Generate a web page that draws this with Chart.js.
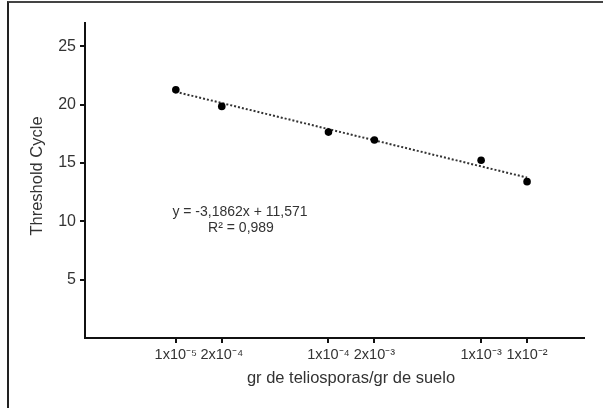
<!DOCTYPE html>
<html>
<head>
<meta charset="utf-8">
<script src="https://cdn.jsdelivr.net/npm/chart.js@4/dist/chart.umd.min.js"></script>
<style>
  html, body { margin: 0; padding: 0; background: #fff; }
  #wrap { position: relative; width: 603px; height: 408px; }
  #frame { position: absolute; left: 7px; top: 1px; right: 0; bottom: 0;
           border-left: 2px solid #222; border-top: 2px solid #444; pointer-events: none; }
</style>
</head>
<body>
<div id="wrap">
  <canvas id="chart" width="603" height="408"></canvas>
  <div id="frame"></div>
</div>
<script>
// posición de cada muestra en décadas (escala log) y etiquetas tal como aparecen
const xPos = [0, 0.301, 1, 1.301, 2, 2.301];
const xLabels = ['1x10⁻⁵', '2x10⁻⁴', '1x10⁻⁴', '2x10⁻³', '1x10⁻³', '1x10⁻²'];
const ctValues = [21.27, 19.85, 17.65, 16.97, 15.23, 13.40];
const trendX = [0, 2.301];
const trendY = [21.1, 13.75];
const yTicks = [5, 10, 15, 20, 25];

const FONT = 'Liberation Sans, Arial, sans-serif';
const TXT = '#333';

// textos: títulos de ejes y ecuación de la recta
const textPlugin = {
  id: 'textos',
  afterDraw(chart) {
    const ctx = chart.ctx;
    ctx.save();
    ctx.fillStyle = TXT;
    ctx.textAlign = 'center';
    ctx.textBaseline = 'middle';
    ctx.font = '16.5px ' + FONT;
    ctx.fillText('gr de teliosporas/gr de suelo', 351, 378);
    ctx.save();
    ctx.translate(37, 176);
    ctx.rotate(-Math.PI / 2);
    ctx.fillText('Threshold Cycle', 0, 0);
    ctx.restore();
    ctx.font = '14px ' + FONT;
    ctx.fillText('y = -3,1862x + 11,571', 240, 212);
    ctx.fillText('R² = 0,989', 241, 228);
    ctx.restore();
  }
};

new Chart(document.getElementById('chart'), {
  type: 'scatter',
  data: {
    datasets: [
      {
        data: xPos.map((x, i) => ({ x: x, y: ctValues[i] })),
        pointRadius: 3.8,
        pointBackgroundColor: '#000',
        pointBorderWidth: 0,
        order: 0
      },
      {
        type: 'line',
        data: trendX.map((x, i) => ({ x: x, y: trendY[i] })),
        borderColor: '#333',
        borderWidth: 2,
        borderDash: [2, 2],
        pointRadius: 0,
        fill: false,
        order: 1
      }
    ]
  },
  options: {
    responsive: false,
    animation: false,
    layout: { padding: { left: 0, top: 23, right: 19, bottom: 0 } },
    plugins: { legend: { display: false }, tooltip: { enabled: false } },
    scales: {
      x: {
        type: 'linear',
        min: -0.595,
        max: 2.674,
        afterBuildTicks: s => { s.ticks = xPos.map(v => ({ value: v })); },
        afterFit: s => { s.height = 70; },
        border: { color: '#111', width: 2 },
        grid: { drawOnChartArea: false, tickLength: 5, color: '#111', lineWidth: 2 },
        ticks: {
          autoSkip: false,
          maxRotation: 0,
          padding: 3,
          color: TXT,
          font: { family: FONT, size: 14.5 },
          callback: (v, i) => xLabels[i]
        }
      },
      y: {
        min: 0,
        max: 27,
        afterBuildTicks: s => { s.ticks = yTicks.map(v => ({ value: v })); },
        afterFit: s => { s.width = 85; },
        border: { color: '#111', width: 2 },
        grid: { drawOnChartArea: false, tickLength: 5, color: '#111', lineWidth: 2 },
        ticks: {
          padding: 4,
          color: TXT,
          font: { family: FONT, size: 16 }
        }
      }
    }
  },
  plugins: [textPlugin]
});
</script>
</body>
</html>
